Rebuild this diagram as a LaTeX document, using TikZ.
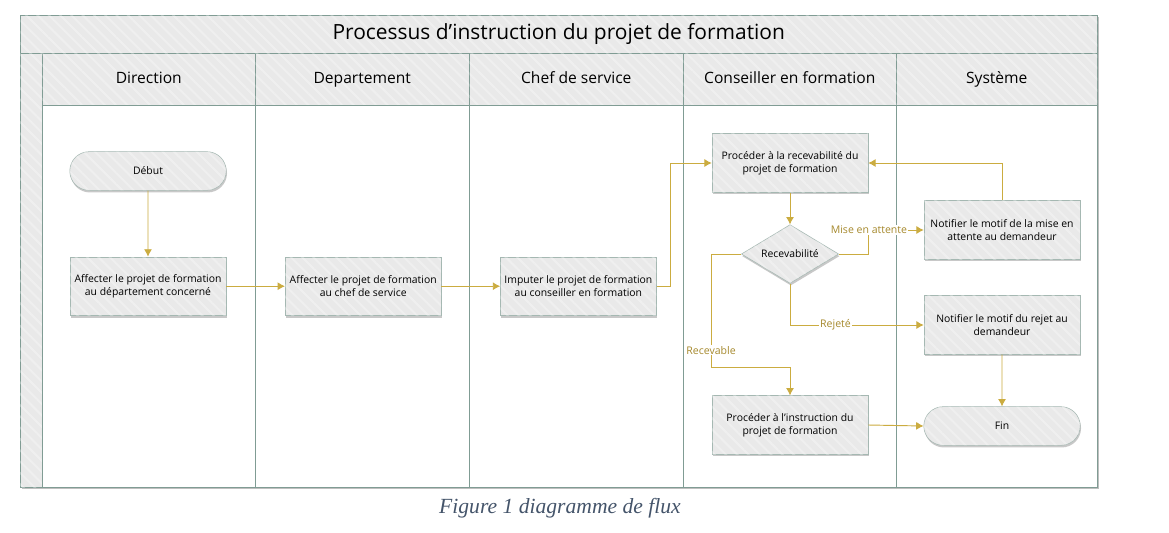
\documentclass[tikz,border=0pt]{standalone}
\usepackage{fontspec}
\setmainfont{Open Sans}
\newfontfamily\capfont{Liberation Serif}
\usetikzlibrary{positioning,shapes.geometric,shapes.misc,shadows,patterns.meta,arrows.meta}

\definecolor{frameline}{RGB}{128,156,148}
\definecolor{boxline}{RGB}{165,184,178}
\definecolor{boxfill}{RGB}{233,233,233}
\definecolor{flow}{RGB}{203,172,64}
\definecolor{flowtext}{RGB}{166,137,45}
\definecolor{captext}{RGB}{68,84,106}

\tikzset{
  hatch/.style={fill=boxfill, postaction={pattern={Lines[angle=-45,distance=6pt,line width=1.5pt]}, pattern color=white, opacity=0.3}},
  shade box/.style={drop shadow={shadow xshift=0.6pt, shadow yshift=-1.6pt, opacity=0.3, fill=black!70}},
  box/.style={rectangle, draw=boxline, hatch, shade box, minimum width=117pt, minimum height=44pt,
    align=center, inner sep=1pt, font=\fontsize{7.8}{10}\selectfont},
  term/.style={rounded rectangle, draw=boxline, hatch, shade box, minimum width=124pt, minimum height=29pt,
    font=\fontsize{7.8}{10}\selectfont},
  decision/.style={diamond, draw=boxline, hatch, shade box, minimum width=73pt, minimum height=44pt,
    inner sep=0pt, aspect=1.65, font=\fontsize{7.8}{10}\selectfont},
  head/.style={rectangle, draw=frameline, hatch, inner sep=0pt, font=\fontsize{11.7}{13}\selectfont},
  lbl/.style={fill=white, inner sep=1pt, text=flowtext, font=\fontsize{7.9}{9}\selectfont}
}

\begin{document}
\begin{tikzpicture}[x=0.75pt,y=-0.75pt,node distance={44pt}]
\useasboundingbox (0,0) rectangle (1169,532);

% cadre et couloirs
\fill[black!25] (21.5,17) rectangle (1098.5,489);
\draw[frameline, fill=white] (20,15) rectangle (1097,487);
\node[head, anchor=north west, minimum width=1077*0.75pt, minimum height=38*0.75pt, font=\fontsize{15.7}{17}\selectfont]
  (title) at (20,15) {Processus d’instruction du projet de formation};
\draw[frameline, hatch] (20,53) rectangle (42,487);
\foreach \i/\x/\w/\name in {1/42/213/Direction, 2/255/214/Departement, 3/469/214/Chef de service,
    4/683/213/Conseiller en formation, 5/896/201/Système}{
  \node[head, anchor=north west, minimum width=\w*0.75pt, minimum height=52*0.75pt,
    text height=1.65ex, text depth=0.45ex] (h\i) at (\x,53) {\name};
  \draw[frameline] (h\i.south west) rectangle ++(\w,382);
  \draw[frameline, line width=1.3pt] (h\i.south west) -- (h\i.south east);
}

% etapes
\node[term] (1) at (148,171) {Début};
\node[box] (2) [below=49.5pt of 1] {Affecter le projet de formation\\au département concerné};
\node[box] (3) [right=of 2] {Affecter le projet de formation\\au chef de service};
\node[box] (4) [right=of 3] {Imputer le projet de formation\\au conseiller en formation};
\node[box] (5) at (790,163) {Procéder à la recevabilité du\\projet de formation};
\node[decision] (6) at (790,254) {Recevabilité};
\node[box] (7) at (1002,230) {Notifier le motif de la mise en\\attente au demandeur};
\node[box] (8) at (1002,325) {Notifier le motif du rejet au\\demandeur};
\node[box] (9) at (790,425) {Procéder à l’instruction du\\projet de formation};
\node[term] (10) at (1002,426) {Fin};

\begin{scope}[flow, line width=0.7pt, -{Latex[length=5.5pt,width=6pt]}]
\draw (1) -- (2);
\draw (2) -- (3);
\draw (3) -- (4);
\draw (4.east) -- ++(14,0) |- (5.west);
\draw (5) -- (6);
\draw (6.east) -- ++(30,0) |- node[lbl] {Mise en attente} (7.west);
\draw (6.south) |- node[lbl, pos=0.67] {Rejeté} (8.west);
\draw (6.west) -- ++(-30,0) -- node[lbl, pos=0.85] {Recevable} ++(0,113) -| (9.north);
\draw (7.north) |- (5.east);
\draw (8) -- (10);
\draw (9.east) -- (10.west);
\end{scope}

\node[font=\capfont\itshape\fontsize{16.2}{18}\selectfont, text=captext] (cap) at (560,508) {Figure 1 diagramme de flux};
\end{tikzpicture}
\end{document}
